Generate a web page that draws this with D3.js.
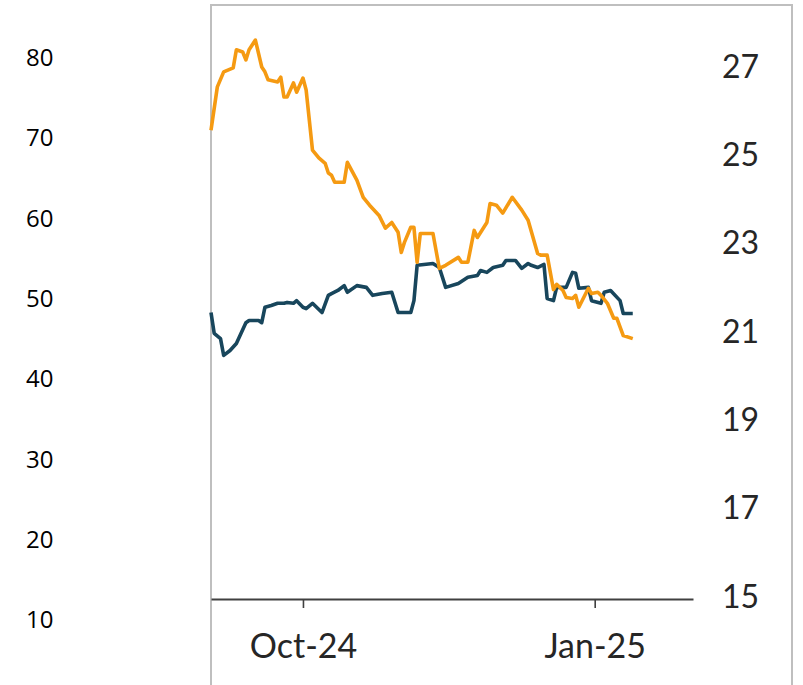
<!DOCTYPE html>
<html>
<head>
<meta charset="utf-8">
<script src="https://cdnjs.cloudflare.com/ajax/libs/d3/7.8.5/d3.min.js"></script>
<style>
  html, body { margin: 0; padding: 0; background: #fff; }
  svg { display: block; }
</style>
</head>
<body>
<svg id="chart" width="803" height="685"></svg>
<script>
// ---------------- data ----------------
const orangeDates = ["2024-09-02","2024-09-04","2024-09-06","2024-09-09","2024-09-10","2024-09-12","2024-09-13","2024-09-14","2024-09-16","2024-09-18","2024-09-19","2024-09-20","2024-09-23","2024-09-24","2024-09-25","2024-09-26","2024-09-28","2024-09-29","2024-10-01","2024-10-02","2024-10-04","2024-10-06","2024-10-08","2024-10-09","2024-10-10","2024-10-11","2024-10-14","2024-10-15","2024-10-18","2024-10-20","2024-10-22","2024-10-25","2024-10-27","2024-10-29","2024-10-31","2024-11-01","2024-11-02","2024-11-04","2024-11-05","2024-11-06","2024-11-07","2024-11-11","2024-11-13","2024-11-15","2024-11-19","2024-11-20","2024-11-22","2024-11-24","2024-11-25","2024-11-28","2024-11-29","2024-12-01","2024-12-03","2024-12-06","2024-12-09","2024-12-11","2024-12-14","2024-12-15","2024-12-17","2024-12-19","2024-12-20","2024-12-22","2024-12-23","2024-12-25","2024-12-26","2024-12-27","2024-12-30","2024-12-31","2025-01-02","2025-01-03","2025-01-05","2025-01-07","2025-01-08","2025-01-10","2025-01-13"];
const orangeValues = [25.57,26.55,26.89,26.98,27.39,27.34,27.16,27.39,27.61,27.00,26.89,26.71,26.66,26.77,26.32,26.32,26.64,26.43,26.75,26.48,25.12,24.94,24.82,24.60,24.55,24.39,24.39,24.84,24.44,24.05,23.87,23.64,23.35,23.48,23.26,22.80,23.03,23.37,23.37,22.58,23.23,23.23,22.44,22.51,22.69,22.58,22.58,23.30,23.14,23.48,23.91,23.87,23.69,24.05,23.76,23.53,22.78,22.74,22.74,21.96,22.08,21.94,21.78,21.76,21.83,21.56,21.99,21.87,21.90,21.83,21.65,21.31,21.31,20.92,20.85];

const navyDates = ["2024-09-02","2024-09-03","2024-09-05","2024-09-06","2024-09-08","2024-09-10","2024-09-13","2024-09-14","2024-09-17","2024-09-18","2024-09-19","2024-09-21","2024-09-23","2024-09-25","2024-09-26","2024-09-28","2024-09-29","2024-10-01","2024-10-02","2024-10-04","2024-10-07","2024-10-09","2024-10-10","2024-10-12","2024-10-14","2024-10-15","2024-10-18","2024-10-21","2024-10-23","2024-10-26","2024-10-29","2024-10-31","2024-11-04","2024-11-05","2024-11-06","2024-11-11","2024-11-13","2024-11-15","2024-11-19","2024-11-22","2024-11-25","2024-11-26","2024-11-28","2024-11-30","2024-12-03","2024-12-04","2024-12-07","2024-12-09","2024-12-11","2024-12-12","2024-12-14","2024-12-16","2024-12-17","2024-12-19","2024-12-20","2024-12-23","2024-12-25","2024-12-26","2024-12-27","2024-12-30","2024-12-31","2025-01-03","2025-01-04","2025-01-06","2025-01-09","2025-01-10","2025-01-13"];
const navyValues = [21.44,20.97,20.85,20.47,20.58,20.74,21.21,21.26,21.26,21.21,21.56,21.60,21.65,21.65,21.67,21.65,21.71,21.56,21.53,21.65,21.44,21.83,21.87,21.94,22.05,21.90,22.05,22.01,21.83,21.87,21.90,21.44,21.44,21.71,22.51,22.55,22.46,22.01,22.10,22.24,22.28,22.39,22.35,22.46,22.51,22.62,22.62,22.44,22.55,22.51,22.46,22.53,21.76,21.71,22.01,22.01,22.35,22.33,21.99,22.01,21.71,21.65,21.90,21.94,21.71,21.42,21.42];

const xTickDates = ["2024-10-01","2025-01-01"];
const rightTicks = [15,17,19,21,23,25,27];
const leftTicks = [10,20,30,40,50,60,70,80];

// ---------------- drawing ----------------
const parse = d3.timeParse("%Y-%m-%d");
const svg = d3.select("#chart");
svg.append("rect").attr("width",803).attr("height",685).attr("fill","#fff");

const x = d3.scaleTime()
  .domain([parse("2024-09-02"), parse("2025-02-01")])
  .range([211, 693]);
const y = d3.scaleLinear().domain([15, 27]).range([597, 67]);
const yLeft = d3.scaleLinear().domain([10, 80]).range([620, 58]);

// panel border
svg.append("rect")
  .attr("x",211).attr("y",5).attr("width",581).attr("height",700)
  .attr("fill","none").attr("stroke","#BFBFBF").attr("stroke-width",2);

// left axis labels (neighbouring panel)
const gl = svg.append("g").attr("transform","translate(26,0)")
  .call(d3.axisRight(yLeft).tickValues(leftTicks).tickSize(0).tickPadding(0));
gl.select(".domain").remove();
gl.attr("font-size", null).attr("font-family", null);
gl.selectAll("text")
  .style("font-family","'Open Sans', sans-serif").style("font-size","24px")
  .attr("fill","#000").attr("text-anchor","start");

// right axis labels
const gr = svg.append("g").attr("transform","translate(722,0)")
  .call(d3.axisRight(y).tickValues(rightTicks).tickSize(0).tickPadding(0));
gr.select(".domain").remove();
gr.selectAll("text").style("font-family","Lato, sans-serif").style("font-size","32px")
  .attr("fill","#262626").attr("text-anchor","start");

// x axis
const gx = svg.append("g").attr("transform","translate(0,599)")
  .call(d3.axisBottom(x).tickValues(xTickDates.map(parse))
    .tickFormat(d3.timeFormat("%b-%y")).tickSizeInner(9).tickSizeOuter(0).tickPadding(26));
gx.select(".domain").attr("stroke","#404040").attr("stroke-width",2);
gx.selectAll(".tick line").attr("stroke","#404040").attr("stroke-width",1.6);
gx.selectAll("text").style("font-family","Lato, sans-serif").style("font-size","34px").attr("fill","#262626");

// lines
const line = d3.line().x(d => x(d[0])).y(d => y(d[1]));
const orange = orangeDates.map((d,i) => [parse(d), orangeValues[i]]);
const navy = navyDates.map((d,i) => [parse(d), navyValues[i]]);

svg.append("path").datum(navy).attr("d", line)
  .attr("fill","none").attr("stroke","#18465C").attr("stroke-width",3.6)
  .attr("stroke-linejoin","round");
svg.append("path").datum(orange).attr("d", line)
  .attr("fill","none").attr("stroke","#F59A12").attr("stroke-width",3.6)
  .attr("stroke-linejoin","round");
</script>
</body>
</html>
